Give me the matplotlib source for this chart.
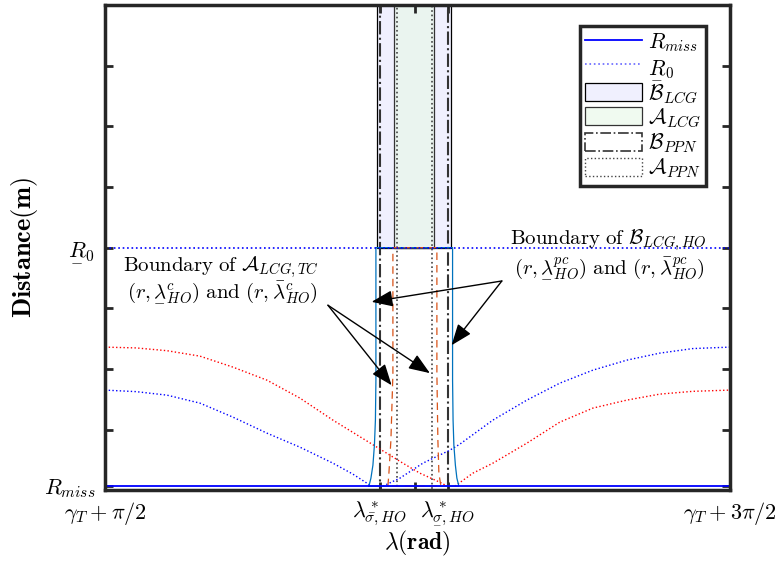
import matplotlib
matplotlib.use("Agg")
import matplotlib.pyplot as plt
from matplotlib.patches import Rectangle, Patch
from matplotlib.lines import Line2D

plt.rcParams["mathtext.fontset"] = "cm"
plt.rcParams["font.family"] = "serif"
plt.rcParams["font.serif"] = ["cmr10", "DejaVu Serif"]
plt.rcParams["axes.formatter.use_mathtext"] = True

# --- levels (y) and region edges (x), x on a 0..100 scale of the lambda range ---
r_miss = 0.066
r_0 = 4.0
y_top = 8.0
b_lcg = [43.52, 55.36]
a_lcg = [46.24, 52.64]
b_ppn = [44.0, 54.88]
a_ppn = [46.72, 52.32]

# dotted distance curves
blue_left_x = [0, 4.96, 9.92, 15.2, 20.48, 25.92, 31.2, 36.48, 39.68, 41.92, 42.72]
blue_left_y = [1.65, 1.625, 1.567, 1.435, 1.204, 0.94, 0.709, 0.445, 0.264, 0.115, 0.066]
red_left_x = [0, 4.96, 9.92, 15.2, 20.48, 25.92, 31.2, 36.48, 43.52, 47.68, 50.4, 53.92, 54.72]
red_left_y = [2.359, 2.346, 2.3, 2.21, 2.029, 1.814, 1.518, 1.155, 0.709, 0.445, 0.28, 0.115, 0.066]
blue_right_x = [44.48, 47.2, 50.88, 55.2, 56.8, 62.08, 67.52, 72.8, 78.08, 83.52, 88.8, 94.08, 100]
blue_right_y = [0.066, 0.198, 0.445, 0.66, 0.759, 1.155, 1.485, 1.765, 1.979, 2.144, 2.26, 2.335, 2.359]
red_right_x = [56.0, 58.88, 62.08, 67.52, 72.8, 78.08, 83.52, 88.8, 94.08, 100]
red_right_y = [0.066, 0.28, 0.445, 0.775, 1.122, 1.353, 1.485, 1.584, 1.63, 1.65]

# boundary of B_LCG,HO (closed loop)
bnd_b_x = [42.24, 42.56, 42.88, 43.12, 43.28, 43.36, 43.36,
           55.63, 55.63, 55.71, 55.84, 56.08, 56.32, 56.64, 42.24]
bnd_b_y = [0.066, 0.198, 0.412, 0.742, 1.155, 1.814, 4.0,
           4.0, 1.814, 1.155, 0.742, 0.412, 0.198, 0.066, 0.066]
# boundary of A_LCG,TC (closed loop)
bnd_a_x = [45.28, 45.44, 45.76, 45.92, 46.08, 46.08,
           53.12, 53.12, 53.2, 53.28, 53.44, 53.76, 45.28]
bnd_a_y = [0.066, 0.28, 0.825, 1.37, 1.93, 4.0,
           4.0, 1.93, 1.37, 0.825, 0.28, 0.066, 0.066]

xticks = [0, 44.0, 49.6, 54.88, 100]
xtick_labels = [r"$\gamma_T+\pi/2$", r"$\lambda^*_{\bar{\sigma},HO}$", "",
                r"$\lambda^*_{\underset{-}{\sigma},HO}$", r"$\gamma_T+3\pi/2$"]
yticks = [r_miss, 1, 2, 3, 4, 5, 6, 7]
ytick_labels = [r"$R_{miss}$", "", "", "", r"$\underset{-}{R}_0$", "", "", ""]

fig = plt.figure(figsize=(7.78, 5.66), dpi=100)
ax = fig.add_axes([0.135, 0.134, 0.803, 0.857])

lavender = "#f0f0fe"
mint = "#e6f7e6"

# --- regions ---
ax.add_patch(Rectangle((b_lcg[0], r_0), b_lcg[1] - b_lcg[0], y_top - r_0,
                       facecolor=lavender, edgecolor="black", lw=0.9, zorder=1))
ax.add_patch(Rectangle((a_lcg[0], r_0), a_lcg[1] - a_lcg[0], y_top - r_0,
                       facecolor=mint, alpha=0.6, edgecolor="none", zorder=1.1))
ax.add_patch(Rectangle((a_lcg[0], r_0), a_lcg[1] - a_lcg[0], y_top - r_0,
                       fill=False, edgecolor="#333333", lw=0.9, zorder=1.2))
ax.add_patch(Rectangle((b_ppn[0], -1), b_ppn[1] - b_ppn[0], y_top + 2,
                       fill=False, edgecolor="#333333", ls="-.", lw=1.5, zorder=2))
ax.add_patch(Rectangle((a_ppn[0], -1), a_ppn[1] - a_ppn[0], y_top + 2,
                       fill=False, edgecolor="#444444", ls=":", lw=1.2, zorder=2))

# --- curves ---
ax.plot(blue_left_x, blue_left_y, ":", color="blue", lw=1.0, zorder=3)
ax.plot(blue_right_x, blue_right_y, ":", color="blue", lw=1.0, zorder=3)
ax.plot(red_left_x, red_left_y, ":", color="red", lw=1.0, zorder=3)
ax.plot(red_right_x, red_right_y, ":", color="red", lw=1.0, zorder=3)
ax.plot(bnd_b_x, bnd_b_y, "-", color="#0072BD", lw=0.9, zorder=4)
ax.plot(bnd_a_x, bnd_a_y, "--", color="#D95319", lw=0.9, dashes=(6, 4), zorder=4)
ax.axhline(r_0, color="blue", ls=":", lw=1.2, zorder=5)
ax.axhline(r_miss, color="blue", ls="-", lw=1.3, zorder=5)

# --- annotations ---
ax.text(18.5, 3.68, r"$\mathrm{Boundary\ of}\ \mathcal{A}_{LCG,TC}$",
        ha="center", va="center", fontsize=15, zorder=6)
ax.text(18.8, 3.27, r"$(r,\underset{-}{\lambda}^c_{HO})\ \mathrm{and}\ (r,\bar{\lambda}^c_{HO})$",
        ha="center", va="center", fontsize=15, zorder=6)
ax.text(80.6, 4.12, r"$\mathrm{Boundary\ of}\ \mathcal{B}_{LCG,HO}$",
        ha="center", va="center", fontsize=15, zorder=6)
ax.text(80.8, 3.66, r"$(r,\underset{-}{\lambda}^{pc}_{HO})\ \mathrm{and}\ (r,\bar{\lambda}^{pc}_{HO})$",
        ha="center", va="center", fontsize=15, zorder=6)

arrow = dict(arrowstyle="-|>,head_length=1.3,head_width=0.5", color="black",
             lw=1.0, shrinkA=0, shrinkB=0)
for tip in [(45.87, 1.73), (52.0, 1.93)]:
    ax.annotate("", xy=tip, xytext=(35.68, 3.05), arrowprops=arrow, zorder=6)
for tip in [(42.67, 3.106), (55.47, 2.39)]:
    ax.annotate("", xy=tip, xytext=(63.52, 3.45), arrowprops=arrow, zorder=6)

# --- axes ---
ax.set_xlim(0, 100)
ax.set_ylim(0, y_top)
ax.set_xticks(xticks)
ax.set_xticklabels(xtick_labels, fontsize=16)
ax.set_yticks(yticks)
ax.set_yticklabels(ytick_labels, fontsize=16)
ax.tick_params(direction="in", length=6, width=2, color="#262626",
               top=True, right=True, pad=7)
for sp in ax.spines.values():
    sp.set_linewidth(2.5)
    sp.set_color("#262626")
    sp.set_zorder(10)
ax.set_xlabel(r"$\lambda\mathbf{(rad)}$", fontsize=17, labelpad=0)
ax.set_ylabel(r"$\mathbf{Distance(m)}$", fontsize=19, labelpad=3)

handles = [
    Line2D([], [], color="blue", lw=1.3),
    Line2D([], [], color="blue", ls=":", lw=1.2, alpha=0.6),
    Patch(facecolor=lavender, edgecolor="black", lw=0.9),
    Patch(facecolor="#f0faf0", edgecolor="#333333", lw=0.9),
    Patch(fill=False, edgecolor="#333333", ls="-.", lw=1.2),
    Patch(fill=False, edgecolor="#444444", ls=":", lw=1.0),
]
labels = [r"$R_{miss}$", r"$\underset{-}{R}_0$", r"$\mathcal{B}_{LCG}$",
          r"$\mathcal{A}_{LCG}$", r"$\mathcal{B}_{PPN}$", r"$\mathcal{A}_{PPN}$"]
leg = ax.legend(handles, labels, loc="upper right", bbox_to_anchor=(0.962, 0.957),
                borderaxespad=0, fontsize=15.5, handlelength=2.65, handleheight=0.9,
                handletextpad=0.25, labelspacing=0.08, borderpad=0.25,
                fancybox=False, framealpha=1)
leg.get_frame().set_linewidth(2.5)
leg.get_frame().set_edgecolor("#262626")
leg.set_zorder(11)

fig.savefig("out.png", dpi=100)
